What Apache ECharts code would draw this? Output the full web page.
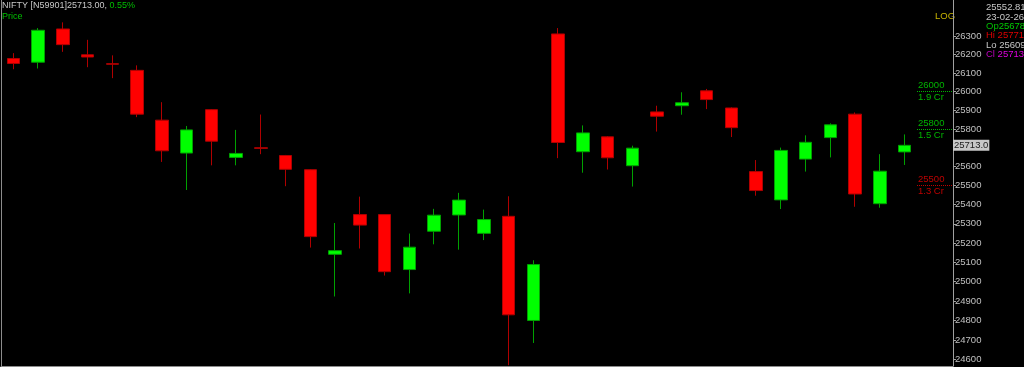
<!DOCTYPE html>
<html><head><meta charset="utf-8">
<script src="https://cdn.jsdelivr.net/npm/echarts@6/dist/echarts.min.js"></script>
<style>html,body{margin:0;padding:0;background:#000}#c{width:1024px;height:367px}</style>
</head><body><div id="c"></div>
<script>
// ---- data ----
const dates = ['01-01-26','02-01-26','05-01-26','06-01-26','07-01-26','08-01-26','09-01-26','12-01-26','13-01-26','14-01-26',
  '16-01-26','19-01-26','20-01-26','21-01-26','22-01-26','23-01-26','27-01-26','28-01-26','29-01-26','30-01-26',
  '01-02-26','02-02-26','03-02-26','04-02-26','05-02-26','06-02-26','09-02-26','10-02-26','11-02-26','12-02-26',
  '13-02-26','16-02-26','17-02-26','18-02-26','19-02-26','20-02-26','23-02-26'];
const opens  = [26178,26158,26338,26198,26150,26114,25847,25672,25903,25649,25700,25659,25584,25141,25348,25348,25062,25261,25346,25250,25339,24800,26311,25679,25758,25605,25891,25924,26004,25912,25574,25425,25640,25754,25879,25405,25678];
const closes = [26151,26331,26253,26186,26147,25879,25684,25795,25735,25670,25697,25586,25233,25160,25293,25051,25178,25345,25424,25322,24829,25088,25728,25779,25647,25698,25868,25940,25957,25807,25474,25686,25729,25822,25456,25576,25713];
const lows   = [26120,26124,26214,26131,26072,25863,25625,25477,25607,25607,25666,25497,25176,24923,25171,25031,24939,25193,25165,25215,24572,24685,25645,25568,25585,25495,25786,25876,25906,25757,25447,25377,25574,25649,25389,25384,25609];
const highs  = [26207,26343,26374,26279,26195,26141,25943,25816,25906,25795,25877,25662,25587,25304,25442,25350,25249,25378,25462,25374,25444,25110,26343,25819,25762,25711,25924,25996,26014,25915,25635,25701,25766,25830,25888,25666,25771];
const yTicks = [24600,24700,24800,24900,25000,25100,25200,25300,25400,25500,25600,25700,25800,25900,26000,26100,26200,26300];
const levels = [26000, 25800, 25500];
const levelVolumes = ['1.9 Cr', '1.5 Cr', '1.3 Cr'];
const levelKinds = ['up', 'up', 'down'];
const symbolName = 'NIFTY [N59901]';
const changePct = '0.55%';
const cursorPrice = '25552.81';
const scaleName = 'LOG';
const paneName = 'Price';

// ---- chart ----
const Y_MIN = 24568, Y_MAX = 26496;
const FONT = '"Liberation Sans", Arial, sans-serif';
const n = dates.length;
const last = n - 1;
const lastClose = closes[last];
const candleData = dates.map((d, i) => [opens[i], closes[i], lows[i], highs[i]]);
const kindColor = {up: '#00b400', down: '#c00000'};

const markData = [];
levels.forEach((lv, i) => {
  const col = kindColor[levelKinds[i]];
  const ls = {color: col, type: 'dotted', width: 1};
  markData.push({yAxis: lv, lineStyle: ls,
    label: {show: true, position: 'insideStartTop', formatter: String(lv), color: col, fontSize: 9.5, fontFamily: FONT, distance: 1}});
  markData.push({yAxis: lv, lineStyle: ls,
    label: {show: true, position: 'insideStartBottom', formatter: levelVolumes[i], color: col, fontSize: 9.5, fontFamily: FONT, distance: 1}});
});
markData.push({yAxis: lastClose, lineStyle: {color: 'rgba(0,0,0,0)', width: 1},
  label: {show: true, position: 'end', formatter: lastClose.toFixed(1), color: '#202020',
    backgroundColor: '#c8c8c8', padding: [1, 1, 0, 1], fontSize: 9.5, fontFamily: FONT, distance: 0}});

const labelTicks = yTicks.filter(v => Math.abs(v - lastClose) > 40);

const fmt2 = v => v.toFixed(2);
const info = [
  {text: cursorPrice, color: '#c8c8c8'},
  {text: dates[last], color: '#c8c8c8'},
  {rich: '{k|Op}{v|' + fmt2(opens[last]) + '}', k: '#00c000', v: '#00d000'},
  {rich: '{k|Hi }{v|' + fmt2(highs[last]) + '}', k: '#e00000', v: '#e00000'},
  {rich: '{k|Lo }{v|' + fmt2(lows[last]) + '}', k: '#c8c8c8', v: '#c8c8c8'},
  {rich: '{k|Cl }{v|' + fmt2(closes[last]) + '}', k: '#c000c0', v: '#e000e0'}
];
const F = '9.5px ' + FONT;
const infoTops = [2, 12, 21, 30, 40, 49];
const graphics = info.map((it, i) => ({
  type: 'text', left: 986, top: infoTops[i],
  style: it.rich ? {text: it.rich, font: F,
      rich: {k: {fill: it.k, font: F}, v: {fill: it.v, font: F}}}
    : {text: it.text, fill: it.color, font: F}
}));
graphics.push({type: 'text', left: 2, top: 1, style: {
  text: '{a|' + symbolName + lastClose.toFixed(2) + ', }{b|' + changePct + '}', font: '9px ' + FONT,
  rich: {a: {fill: '#c8c8c8', font: '9px ' + FONT}, b: {fill: '#00c000', font: '9px ' + FONT}}}});
graphics.push({type: 'text', left: 2, top: 12, style: {text: paneName, fill: '#00c000', font: '9px ' + FONT}});
graphics.push({type: 'text', left: 935, top: 11, style: {text: scaleName, fill: '#c8b400', font: F}});

const chart = echarts.init(document.getElementById('c'), null, {renderer: 'canvas'});
chart.setOption({
  backgroundColor: '#000000',
  animation: false,
  grid: [
    {left: 1, top: 0, width: 916, height: 366},
    {left: 917, top: 0, right: 71, height: 366}
  ],
  xAxis: [
    {type: 'category', gridIndex: 0, data: dates, boundaryGap: true,
      axisLine: {show: true, onZero: false, lineStyle: {color: '#8c8c8c'}}, axisTick: {show: false}, axisLabel: {show: false}, splitLine: {show: false}},
    {type: 'value', gridIndex: 1, min: 0, max: 1,
      axisLine: {show: true, onZero: false, lineStyle: {color: '#8c8c8c'}}, axisTick: {show: false}, axisLabel: {show: false}, splitLine: {show: false}}
  ],
  yAxis: [
    {type: 'log', gridIndex: 0, min: Y_MIN, max: Y_MAX, position: 'left',
      axisLine: {show: true, onZero: false, lineStyle: {color: '#8c8c8c'}}, axisTick: {show: false}, axisLabel: {show: false}, splitLine: {show: false}},
    {type: 'log', gridIndex: 1, min: Y_MIN, max: Y_MAX, position: 'right',
      axisLine: {show: true, onZero: false, lineStyle: {color: '#a0a0a0'}},
      axisTick: {show: true, length: 3, inside: false, customValues: yTicks, lineStyle: {color: '#a0a0a0'}},
      axisLabel: {show: true, customValues: labelTicks, margin: 2, color: '#c0c0c0', fontSize: 9.5, fontFamily: FONT,
        formatter: v => String(Math.round(v))},
      splitLine: {show: false}}
  ],
  series: [
    {type: 'candlestick', xAxisIndex: 0, yAxisIndex: 0, data: candleData, barWidth: 13,
      itemStyle: {color: '#00ff00', color0: '#ff0000', borderColor: '#00a000', borderColor0: '#b00000', borderWidth: 1}},
    {type: 'line', xAxisIndex: 1, yAxisIndex: 1, data: [[0.5, lastClose]], showSymbol: false, lineStyle: {opacity: 0},
      silent: true, z: 5,
      markLine: {symbol: ['none', 'none'], silent: true, animation: false, z: 10, data: markData}}
  ],
  graphic: graphics
});
</script>
</body></html>
